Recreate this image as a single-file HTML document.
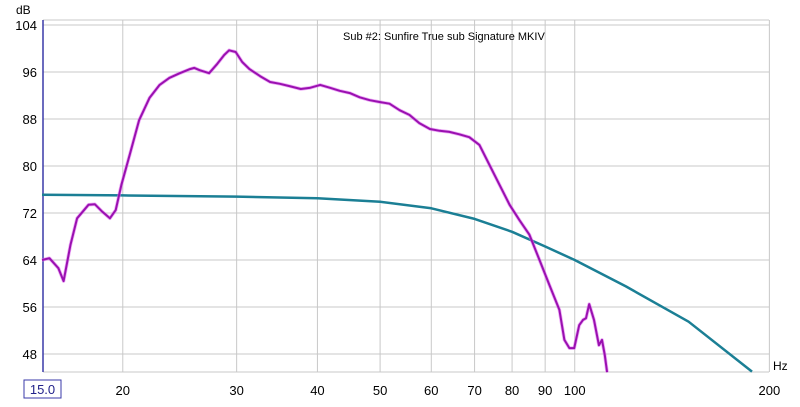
<!DOCTYPE html>
<html><head><meta charset="utf-8"><style>
body{margin:0;background:#fff;width:800px;height:402px;overflow:hidden}
svg{font-family:"Liberation Sans",sans-serif}
</style></head><body>
<svg id="chart" width="800" height="402" xmlns="http://www.w3.org/2000/svg">
<g id="grid"></g>
<g id="axes"></g>
<g id="series"></g>
<text x="343" y="40" font-size="11" fill="#000">Sub #2: Sunfire True sub Signature MKIV</text>
<text x="16" y="14" font-size="12" fill="#000">dB</text>
<text x="773" y="370" font-size="12" fill="#000">Hz</text>
</svg>
<script>
const yTicks=[104,96,88,80,72,64,56,48];
const xTicks=[20,30,40,50,60,70,80,90,100,200];
const xTickLabels=["20","30","40","50","60","70","80","90","100","200"];
const measFreq=[15,15.4,15.9,16.2,16.6,17.0,17.7,18.1,18.6,19.1,19.5,19.9,20.5,21.2,22.0,22.8,23.6,24.5,25.4,25.8,26.3,27.2,28.0,28.7,29.2,29.9,30.6,31.4,32.6,33.8,35.0,36.2,37.7,38.9,40.4,41.9,43.3,44.9,46.5,48.2,49.9,51.7,53.6,55.5,57.5,59.7,61.8,64.0,66.3,68.7,71.2,73.8,76.5,79.3,82.1,85.1,88.2,91.4,94.7,96.4,98.1,99.8,101.6,103.0,104.1,105.3,107.1,109.0,110.2,111.3,112.2];
const measDb=[64.0,64.3,62.6,60.4,66.6,71.1,73.4,73.5,72.2,71.1,72.5,76.8,81.9,87.8,91.6,93.8,95.0,95.8,96.5,96.7,96.3,95.8,97.4,98.9,99.7,99.4,97.7,96.5,95.3,94.3,94.0,93.6,93.1,93.3,93.8,93.3,92.8,92.4,91.7,91.2,90.9,90.6,89.5,88.7,87.3,86.3,86.0,85.8,85.4,84.9,83.6,80.2,76.8,73.4,70.8,68.3,64.0,59.7,55.5,50.4,49.0,49.0,52.9,53.8,54.1,56.5,53.8,49.5,50.4,47.8,44.9];
const targetFreq=[15,20,30,40,50,60,70,80,90,100,120,150,188];
const targetDb=[75.1,75.0,74.8,74.5,73.9,72.8,71.0,68.8,66.3,64.0,59.5,53.5,45.0];
const NS="http://www.w3.org/2000/svg";
const X0=42,K=646.6,L=43,R=769,T=20,B=372;
const xs=f=>X0+K*Math.log10(f/15);
const ys=d=>72-(d-96)*5.875;
function mk(tag,attrs,parent){const e=document.createElementNS(NS,tag);for(const k in attrs)e.setAttribute(k,attrs[k]);parent.appendChild(e);return e;}
const grid=document.getElementById('grid'),axes=document.getElementById('axes'),series=document.getElementById('series');
yTicks.forEach(v=>{
 const l=mk('line',{x1:L,x2:R,y1:ys(v),y2:ys(v),stroke:'#c8c8c8','stroke-width':1},grid);
 
 
 const t=mk('text',{x:37,y:ys(v)+5,'font-size':13,'text-anchor':'end',fill:'#000'},axes);
 t.textContent=v;
 
 
});
xTicks.forEach((v,i)=>{
 const l=mk('line',{x1:xs(v),x2:xs(v),y1:T,y2:B,stroke:'#c8c8c8','stroke-width':1},grid);
 
 
 const t=mk('text',{x:xs(v),y:395,'font-size':13,'text-anchor':'middle',fill:'#000'},axes);
 t.textContent=xTickLabels[i];
 
 
});
const topBorder=mk('line',{x1:L,x2:R,y1:T,y2:T,stroke:'#c8c8c8'},grid);


const bottomAxis=mk('line',{x1:L,x2:R,y1:B,y2:B,stroke:'#c8c8c8'},grid);


const yl=mk('line',{x1:L,x2:L,y1:T,y2:B,stroke:'#3a3aa8','stroke-width':1.5},axes);


const bx=mk('rect',{x:24,y:380,width:37,height:18,fill:'none',stroke:'#3a3aa8'},axes);


const bt=mk('text',{x:42.5,y:394,'font-size':13,'text-anchor':'middle',fill:'#22228a'},axes);
bt.textContent='15.0';


function path(fr,db){return fr.map((f,i)=>(i?'L':'M')+xs(f).toFixed(1)+','+ys(db[i]).toFixed(1)).join(' ');}
const tp=mk('path',{d:path(targetFreq,targetDb),fill:'none',stroke:'#1b7f95','stroke-width':2.5,'stroke-linejoin':'round'},series);


const mg=mk('path',{d:path(measFreq,measDb),fill:'none',stroke:'#e070f0','stroke-width':3.5,'stroke-linejoin':'round',opacity:0.6},series);


const mp=mk('path',{d:path(measFreq,measDb),fill:'none',stroke:'#9a10b0','stroke-width':2,'stroke-linejoin':'round'},series);


</script>
</body></html>
